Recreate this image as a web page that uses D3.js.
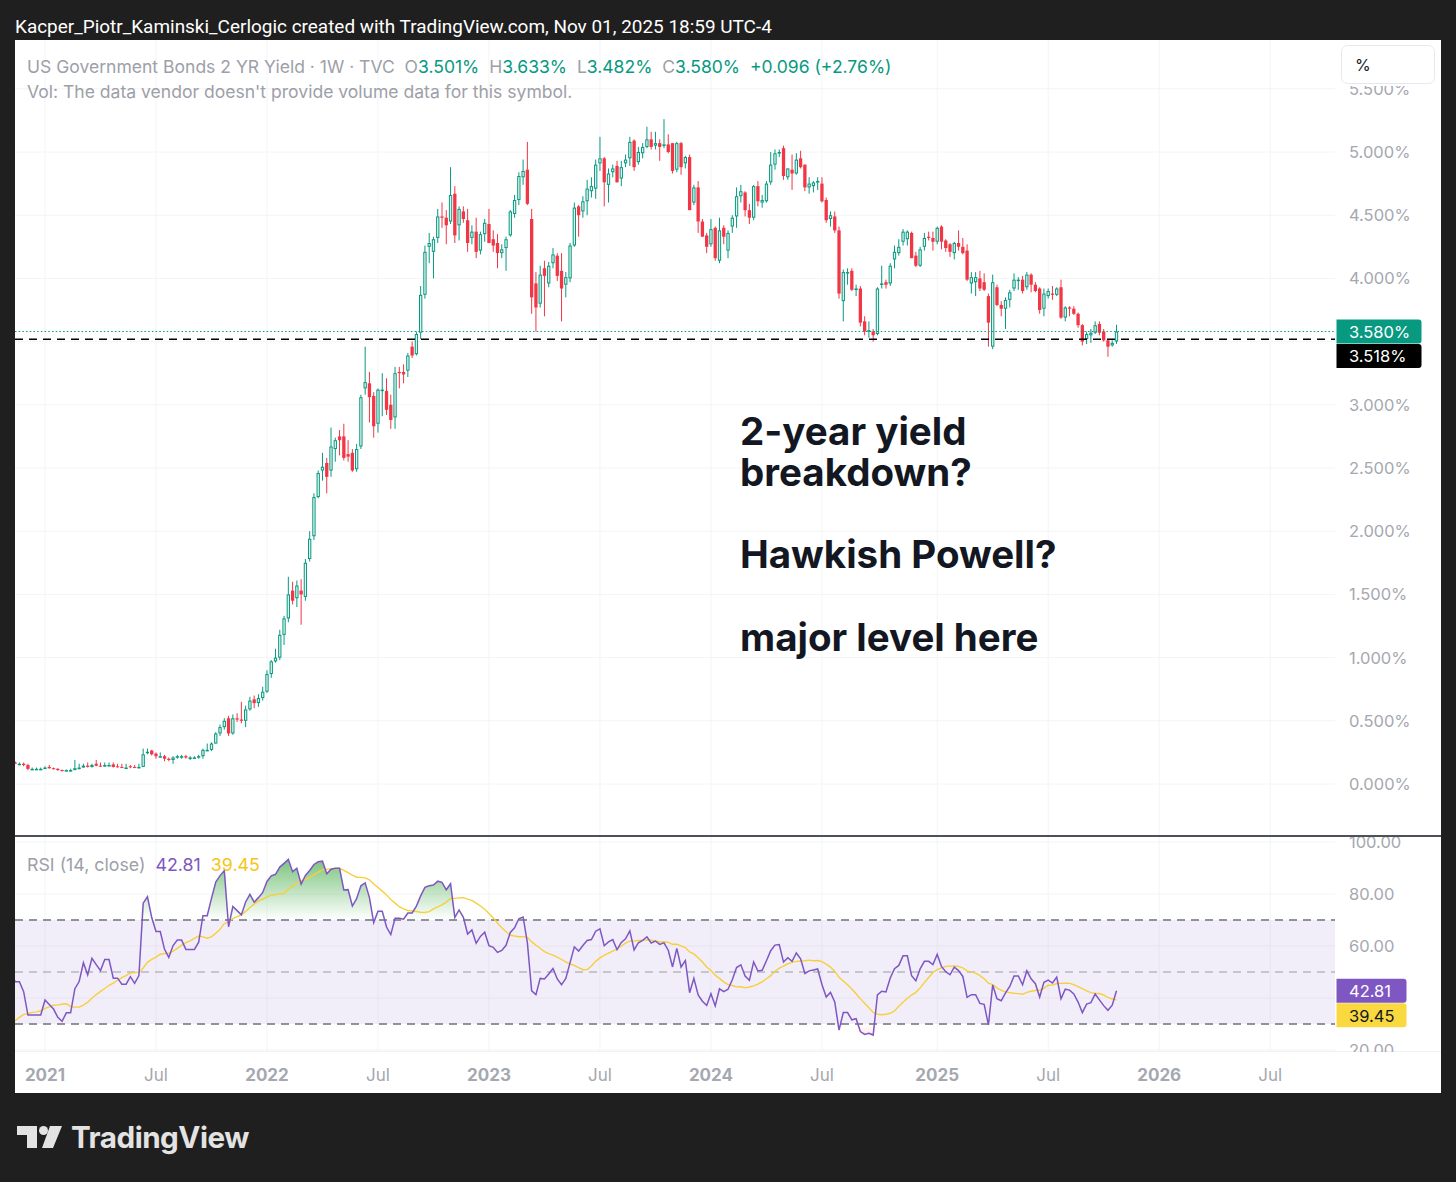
<!DOCTYPE html>
<html><head><meta charset="utf-8">
<script src="https://cdn.jsdelivr.net/npm/d3@7"></script>
<style>
html,body{margin:0;padding:0;background:#1f1f1f;}
svg{display:block;}
text{white-space:pre;}
</style></head><body>
<svg id="chart" width="1456" height="1182"></svg>
<script>
// ---------------- DATA (weekly, TVC:US02Y, % yield) ----------------
const firstWeek = "2020-04-13"; // Monday of first bar (bars before mid-Nov 2020 are off-screen warm-up for the RSI)
const opens = [
 .225,.220,.210, .215,.205,.200,.205, .195,.200,.190,.185,.190, .180,.175,.180,.170, .165,.170,.160,.165,.155, .160,.150,.155,.145, .140,.145,.135,.140, .130,.135,
 .17,.16,.16,.15,.12,.12,.12,
 .12,.135,.125,.12, .11,.105,.11,.11, .12,.13,.145,.135,.16, .145,.14,.15,.155, .14,.135,.13,.14,.135, .13,.135,.25,.265, .24,.22,.22,.20, .19,.21,.22,.22,.21, .21,.21,.22,.27, .27,.32,.40,.45, .52,.40,.52,.51,.50, .59,.67,.64,.68,
 .73,.87,.97,1.00,1.18, 1.31,1.53,1.47,1.53, 1.48,1.78,1.96,2.27, 2.48,2.54,2.48,2.65, 2.75,2.75,2.61,2.62,2.49, 2.67,3.13,3.17,3.07, 2.85,3.12,3.11,3.00, 2.90,3.26,3.26,3.27,3.46, 3.40,3.57,3.87,4.25, 4.21,4.32,4.49,4.48,4.45, 4.67,4.42,4.53,4.46, 4.32,4.37,4.22,4.35,
 4.43,4.31,4.28,4.20,4.24, 4.34,4.51,4.62,4.80, 4.86,4.47,3.96,3.80, 4.08,3.96,4.12,4.18, 4.06,3.95,4.00,4.26,4.57, 4.53,4.61,4.69,4.71, 4.91,4.95,4.74,4.84,4.89, 4.79,4.91,4.95,5.09, 4.92,4.99,5.04,5.10, 5.05,5.07,5.05,5.06,5.07, 4.86,5.07,4.91,4.96, 4.60,4.72,4.45,4.34,
 4.27,4.40,4.14,4.40,4.22, 4.41,4.49,4.65,4.68, 4.54,4.48,4.73,4.60, 4.61,4.76,4.90,5.00,5.03, 4.80,4.86,4.83,4.95, 4.90,4.72,4.73,4.76, 4.75,4.62,4.47,4.49,4.38, 3.82,4.05,4.06,3.91, 3.92,3.66,3.58,3.58,3.56, 3.95,3.97,3.96,4.15, 4.20,4.29,4.31,4.36, 4.18,4.10,4.25,4.33,4.32,
 4.29,4.41,4.30,4.27, 4.20,4.28,4.25,4.22, 3.96,3.97,4.00,3.97,3.86, 3.46,3.93,3.79,3.76, 3.83,3.92,3.98,3.99, 3.93,4.03,3.95,3.92,3.76, 3.86,3.88,3.87,3.93, 3.69,3.77,3.76,3.72, 3.63,3.52,3.55,3.57,3.64, 3.58,3.51,3.47,3.501
];
const highs = [
 .23,.23,.22, .22,.21,.21,.21, .21,.21,.20,.20,.20, .19,.19,.19,.18, .18,.18,.17,.17,.17, .17,.16,.16,.15, .15,.15,.15,.15, .14,.18,
 .18,.17,.17,.16,.13,.13,.13,
 .14,.15,.13,.125, .115,.115,.12,.19, .16,.16,.17,.16,.19, .17,.17,.17,.17, .16,.16,.16,.15,.15, .16,.28,.28,.27, .25,.25,.23,.21, .22,.23,.23,.23,.22, .22,.23,.28,.32, .33,.41,.47,.52, .54,.55,.56,.65,.62, .69,.70,.71,.77,
 .90,.98,1.07,1.22,1.33, 1.64,1.60,1.61,1.62, 1.78,2.00,2.30,2.48, 2.62,2.58,2.82,2.74, 2.80,2.85,2.72,2.65,2.69, 3.08,3.46,3.26,3.10, 3.13,3.25,3.21,3.08, 3.30,3.30,3.32,3.41,3.50, 3.58,3.94,4.26,4.36, 4.33,4.55,4.60,4.54,4.88, 4.73,4.57,4.57,4.55, 4.42,4.48,4.37,4.47,
 4.55,4.38,4.35,4.27,4.33, 4.54,4.66,4.84,4.94, 5.08,4.55,4.05,4.10, 4.14,4.13,4.24,4.20, 4.20,4.05,4.28,4.60,4.58, 4.65,4.78,4.80,4.94, 5.12,4.96,4.87,4.90,4.93, 4.93,4.98,5.12,5.10, 5.04,5.07,5.20,5.16, 5.16,5.10,5.26,5.14,5.07, 5.08,5.08,4.97,4.98, 4.74,4.77,4.47,4.36,
 4.47,4.41,4.48,4.42,4.38, 4.50,4.72,4.74,4.69, 4.59,4.74,4.77,4.66, 4.77,5.00,5.02,5.02,5.05, 4.87,4.98,4.99,5.01, 4.90,4.80,4.77,4.80, 4.80,4.64,4.53,4.53,4.41, 4.07,4.08,4.08,3.95, 3.94,3.70,3.66,3.60,3.93, 4.10,3.99,4.12,4.26, 4.31,4.39,4.38,4.37, 4.21,4.25,4.36,4.37,4.37,
 4.41,4.42,4.31,4.28, 4.29,4.38,4.32,4.27, 4.05,4.05,4.06,4.04,3.88, 4.03,3.95,3.82,3.85, 3.91,4.04,4.01,4.02, 4.05,4.04,3.97,3.93,3.92, 3.92,3.94,3.93,3.99, 3.78,3.78,3.78,3.73, 3.64,3.58,3.60,3.66,3.66, 3.60,3.52,3.51,3.633
];
const lows = [
 .21,.20,.20, .20,.19,.19,.19, .19,.18,.18,.18,.17, .17,.17,.16,.16, .16,.15,.15,.15,.15, .14,.14,.14,.13, .13,.13,.13,.12, .12,.13,
 .16,.15,.14,.11,.11,.11,.11,
 .12,.12,.115,.105, .10,.10,.10,.11, .115,.13,.13,.13,.14, .135,.135,.14,.13, .13,.125,.125,.125,.125, .125,.135,.235,.225, .20,.21,.18,.18, .16,.20,.20,.20,.19, .20,.20,.20,.26, .26,.32,.38,.43, .38,.39,.49,.48,.45, .58,.60,.61,.66,
 .72,.84,.96,.98,1.10, 1.28,1.42,1.40,1.26, 1.45,1.76,1.93,2.26, 2.40,2.30,2.43,2.55, 2.60,2.56,2.55,2.47,2.47, 2.65,3.08,2.86,2.74, 2.78,2.91,2.92,2.81, 2.81,3.13,3.17,3.22,3.37, 3.39,3.52,3.84,4.12, 4.00,4.28,4.40,4.27,4.43, 4.28,4.30,4.44,4.21, 4.27,4.16,4.19,4.29,
 4.28,4.21,4.08,4.16,4.06, 4.33,4.48,4.58,4.74, 4.58,3.72,3.58,3.77, 3.70,3.93,4.08,3.98, 3.66,3.85,3.97,4.25,4.33, 4.48,4.50,4.64,4.63, 4.85,4.57,4.60,4.80,4.76, 4.73,4.88,4.89,4.85, 4.90,4.95,5.03,5.02, 5.02,4.93,5.03,4.99,4.83, 4.84,4.82,4.87,4.54, 4.58,4.36,4.33,4.20,
 4.25,4.14,4.12,4.27,4.16, 4.36,4.40,4.60,4.49, 4.43,4.46,4.57,4.56, 4.60,4.74,4.86,4.96,4.78, 4.78,4.70,4.82,4.87, 4.69,4.67,4.68,4.70, 4.60,4.44,4.41,4.36,3.84, 3.66,3.95,3.90,3.86, 3.62,3.55,3.53,3.50,3.55, 3.92,3.92,3.94,4.08, 4.18,4.26,4.26,4.16, 4.09,4.09,4.22,4.30,4.22,
 4.27,4.23,4.21,4.17, 4.15,4.22,4.19,3.98, 3.88,3.86,3.90,3.90,3.46, 3.44,3.78,3.70,3.60, 3.77,3.90,3.91,3.88, 3.91,3.89,3.89,3.72,3.70, 3.84,3.83,3.86,3.68, 3.66,3.70,3.71,3.61, 3.47,3.48,3.49,3.56,3.55, 3.50,3.38,3.46,3.482
];
const closes = [
 .220,.210,.215, .205,.200,.205,.195, .200,.190,.185,.190,.180, .175,.180,.170,.165, .170,.160,.165,.155,.160, .150,.155,.145,.140, .145,.135,.140,.130, .135,.170,
 .16,.16,.15,.12,.12,.12,.12,
 .13,.125,.12,.11, .105,.11,.11,.125, .13,.145,.135,.15,.145, .14,.15,.15,.135, .135,.13,.13,.135,.13, .135,.235,.255,.235, .22,.22,.20,.19, .21,.22,.22,.21,.21, .21,.22,.27,.27, .32,.40,.45,.50, .40,.52,.51,.50,.59, .66,.64,.68,.73,
 .87,.97,1.00,1.18,1.31, 1.50,1.45,1.57,1.50, 1.75,1.94,2.27,2.46, 2.51,2.43,2.67,2.72, 2.72,2.58,2.59,2.48,2.65, 3.06,3.18,3.06,2.83, 3.12,3.12,2.96,2.88, 3.25,3.25,3.24,3.39,3.39, 3.56,3.87,4.21,4.28, 4.31,4.49,4.48,4.42,4.66, 4.34,4.55,4.47,4.28, 4.37,4.21,4.35,4.44,
 4.28,4.26,4.20,4.23,4.31, 4.53,4.62,4.81,4.85, 4.59,3.85,3.77,4.03, 4.02,4.10,4.19,4.02, 3.92,4.01,4.26,4.56,4.50, 4.61,4.71,4.73,4.90, 4.95,4.76,4.83,4.87,4.76, 4.88,4.94,5.08,4.88, 5.00,5.04,5.10,5.04, 5.07,5.04,5.06,5.00,4.85, 5.07,4.88,4.96,4.54, 4.72,4.45,4.33,4.25,
 4.39,4.16,4.38,4.33,4.36, 4.48,4.65,4.69,4.54, 4.48,4.73,4.61,4.62, 4.75,4.90,4.99,5.00,4.81, 4.87,4.83,4.94,4.88, 4.72,4.75,4.76,4.77, 4.61,4.46,4.50,4.38,3.88, 4.05,4.05,3.91,3.92, 3.65,3.58,3.59,3.55,3.92, 3.96,3.95,4.10,4.21, 4.25,4.37,4.37,4.16, 4.10,4.23,4.32,4.32,4.29,
 4.40,4.29,4.24,4.21, 4.28,4.25,4.20,3.99, 4.01,4.01,3.92,3.91,3.65, 3.97,3.79,3.76,3.83, 3.89,3.99,3.99,3.90, 4.03,3.95,3.90,3.75,3.88, 3.90,3.87,3.92,3.69, 3.77,3.76,3.72,3.63, 3.50,3.56,3.57,3.63,3.57, 3.51,3.46,3.49,3.580
];
const levelLine = 3.518;           // user drawn horizontal level
const legendChange = "+0.096 (+2.76%)";
const rsiLegend = ["42.81", "39.45"]; // RSI, RSI-based MA (last values shown)
const priceTicks = [0,0.5,1,1.5,2,2.5,3,3.5,4,4.5,5,5.5];
const rsiTicks = [20,40,60,80,100];
const rsiLevels = [70,50,30];
const timeTickLabels = ["2021","Jul","2022","Jul","2023","Jul","2024","Jul","2025","Jul","2026","Jul"];
const timeTickMonths = ["2021-01","2021-07","2022-01","2022-07","2023-01","2023-07","2024-01","2024-07","2025-01","2025-07","2026-01","2026-07"];
const noteLines = [["2-year yield","breakdown?"],["Hawkish Powell?"],["major level here"]];
const headerText = "Kacper_Piotr_Kaminski_Cerlogic created with TradingView.com, Nov 01, 2025 18:59 UTC-4";

// ---------------- SETUP ----------------
const n = closes.length;
if (![opens,highs,lows].every(a => a.length === n)) console.error("length mismatch", opens.length, highs.length, lows.length, n);
const start = new Date(firstWeek + "T00:00:00Z");
const dates = closes.map((_, i) => d3.utcMonday.offset(start, i));

const C = {green:"#089981", red:"#f23645", upFill:"#e4f4ef", gray:"#9da0a9", text:"#131722",
           purple:"#7e57c2", yellow:"#f7cf3b", bg:"#1f1f1f"};
const FONT = "Inter, 'Noto Sans', sans-serif";
const L = {left:15, plotR:1335, right:1441, top:40, mainB:836, rsiT:837, rsiB:1051, bottom:1093};

const svg = d3.select("#chart");
svg.append("rect").attr("width",1456).attr("height",1182).attr("fill",C.bg);
svg.append("rect").attr("x",L.left).attr("y",L.top).attr("width",L.right-L.left).attr("height",L.bottom-L.top).attr("fill","#fff");

const x = d3.scaleUtc().domain([new Date("2021-01-04T00:00:00Z"), new Date("2025-10-27T00:00:00Z")]).range([45, 1116.5]);
const yP = d3.scaleLinear().domain([0,5]).range([784,152]);
const yR = d3.scaleLinear().domain([20,100]).range([1050,842]);

const defs = svg.append("defs");
defs.append("clipPath").attr("id","cMain").append("rect").attr("x",L.left).attr("y",L.top).attr("width",L.plotR-L.left).attr("height",L.mainB-L.top);
defs.append("clipPath").attr("id","cRsi").append("rect").attr("x",L.left).attr("y",L.rsiT).attr("width",L.plotR-L.left).attr("height",L.rsiB-L.rsiT);
defs.append("clipPath").attr("id","cPAx").append("rect").attr("x",L.plotR).attr("y",86).attr("width",L.right-L.plotR).attr("height",L.mainB-86);
defs.append("clipPath").attr("id","cRAx").append("rect").attr("x",L.plotR).attr("y",L.rsiT).attr("width",L.right-L.plotR).attr("height",L.rsiB-L.rsiT+1);
const gOB = defs.append("linearGradient").attr("id","gOB").attr("gradientUnits","userSpaceOnUse").attr("x1",0).attr("x2",0).attr("y1",yR(100)).attr("y2",yR(70));
gOB.append("stop").attr("offset",0).attr("stop-color","#4caf50").attr("stop-opacity",0.95);
gOB.append("stop").attr("offset",1).attr("stop-color","#4caf50").attr("stop-opacity",0.0);
const gOS = defs.append("linearGradient").attr("id","gOS").attr("gradientUnits","userSpaceOnUse").attr("x1",0).attr("x2",0).attr("y1",yR(30)).attr("y2",yR(0));
gOS.append("stop").attr("offset",0).attr("stop-color","#f23645").attr("stop-opacity",0);
gOS.append("stop").attr("offset",1).attr("stop-color","#f23645").attr("stop-opacity",0.9);

// ---------------- GRID ----------------
const tickDates = timeTickMonths.map(m => d3.utcMonday.ceil(new Date(m + "-01T00:00:00Z")));
const grid = svg.append("g");
grid.selectAll("line.v").data(tickDates).join("line")
  .attr("x1",d=>x(d)).attr("x2",d=>x(d)).attr("y1",L.top).attr("y2",L.rsiB)
  .attr("stroke","#f3f4f6").attr("stroke-width",1);
grid.selectAll("line.h").data(priceTicks).join("line")
  .attr("x1",L.left).attr("x2",L.plotR).attr("y1",d=>yP(d)).attr("y2",d=>yP(d))
  .attr("stroke","#f3f4f6").attr("stroke-width",1).attr("clip-path","url(#cMain)");
grid.selectAll("line.r").data(rsiTicks).join("line")
  .attr("x1",L.left).attr("x2",L.plotR).attr("y1",d=>yR(d)).attr("y2",d=>yR(d))
  .attr("stroke","#f3f4f6").attr("stroke-width",1).attr("clip-path","url(#cRsi)");

// ---------------- CANDLES ----------------
const gC = svg.append("g").attr("clip-path","url(#cMain)");
const idx = d3.range(n);
const bw = 3.3;
gC.selectAll("line.w").data(idx).join("line")
  .attr("x1",i=>x(dates[i])).attr("x2",i=>x(dates[i]))
  .attr("y1",i=>yP(highs[i])).attr("y2",i=>yP(lows[i]))
  .attr("stroke",i=>closes[i]>=opens[i]?C.green:C.red).attr("stroke-width",1);
gC.selectAll("rect.b").data(idx).join("rect")
  .each(function(i){
    const up = closes[i] >= opens[i];
    const top = yP(Math.max(opens[i],closes[i])), bot = yP(Math.min(opens[i],closes[i]));
    const r = d3.select(this);
    if (up) {
      r.attr("x", x(dates[i]) - bw/2 + 0.5).attr("width", bw-1)
       .attr("y", top + 0.5).attr("height", Math.max(bot-top-1, 0.5))
       .attr("fill", C.upFill).attr("stroke", C.green).attr("stroke-width",1);
    } else {
      r.attr("x", x(dates[i]) - bw/2).attr("width", bw)
       .attr("y", top).attr("height", Math.max(bot-top, 1)).attr("fill", C.red);
    }
  });

// price lines
const lastC = closes[n-1];
svg.append("line").attr("x1",L.left).attr("x2",L.plotR).attr("y1",yP(lastC)).attr("y2",yP(lastC))
  .attr("stroke",C.green).attr("stroke-width",1.2).attr("stroke-dasharray","1.5,2.2");
svg.append("line").attr("x1",L.left).attr("x2",L.plotR).attr("y1",yP(levelLine)).attr("y2",yP(levelLine))
  .attr("stroke","#000").attr("stroke-width",1.6).attr("stroke-dasharray","8,6");

// ---------------- RSI ----------------
function rsiCalc(src, len){
  const out = new Array(src.length).fill(null);
  let up=0, dn=0;
  for (let i=1;i<src.length;i++){
    const ch = src[i]-src[i-1], u = Math.max(ch,0), d = Math.max(-ch,0);
    if (i <= len){ up += u; dn += d; if (i === len){ up/=len; dn/=len; out[i] = dn===0?100:100-100/(1+up/dn);} }
    else { up = (up*(len-1)+u)/len; dn = (dn*(len-1)+d)/len; out[i] = dn===0?100:100-100/(1+up/dn); }
  }
  return out;
}
const rsi = rsiCalc(closes, 14);
const rsiMA = rsi.map((v,i) => (i < 27) ? null : d3.mean(rsi.slice(i-13, i+1)));
const gR = svg.append("g").attr("clip-path","url(#cRsi)");
gR.append("rect").attr("x",L.left).attr("width",L.plotR-L.left).attr("y",yR(70)).attr("height",yR(30)-yR(70))
  .attr("fill","#7e57c2").attr("fill-opacity",0.1);
const rIdx = idx.filter(i => rsi[i] !== null);
gR.append("path").datum(rIdx).attr("fill","url(#gOB)")
  .attr("d", d3.area().x(i=>x(dates[i])).y0(yR(70)).y1(i=>yR(Math.max(rsi[i],70))));
gR.append("path").datum(rIdx).attr("fill","url(#gOS)")
  .attr("d", d3.area().x(i=>x(dates[i])).y0(yR(30)).y1(i=>yR(Math.min(rsi[i],30))));
rsiLevels.forEach(v => {
  gR.append("line").attr("x1",L.left).attr("x2",L.plotR).attr("y1",yR(v)).attr("y2",yR(v))
    .attr("stroke", v===50 ? "#9a9ca4" : "#6f727c").attr("stroke-width", v===50?1.1:1.5)
    .attr("stroke-dasharray","8,6");
});
gR.append("path").datum(idx.filter(i=>rsiMA[i]!==null)).attr("fill","none").attr("stroke",C.yellow).attr("stroke-width",1.4)
  .attr("d", d3.line().x(i=>x(dates[i])).y(i=>yR(rsiMA[i])));
gR.append("path").datum(rIdx).attr("fill","none").attr("stroke",C.purple).attr("stroke-width",1.5)
  .attr("d", d3.line().x(i=>x(dates[i])).y(i=>yR(rsi[i])));

// separators
svg.append("line").attr("x1",L.left).attr("x2",L.right).attr("y1",836).attr("y2",836).attr("stroke","#131722").attr("stroke-width",1.6);
svg.append("line").attr("x1",L.left).attr("x2",L.right).attr("y1",L.rsiB+0.5).attr("y2",L.rsiB+0.5).attr("stroke","#f0f1f3").attr("stroke-width",1);

// ---------------- TAG POSITIONS ----------------
const gy = yP(lastC);              // green last-price tag, black level tag stacked under it
const ry = yR(+rsiLegend[0]);      // purple RSI tag, yellow MA tag stacked under it
const priceTagSpan = [gy-12, gy+12+24.5];
const rsiTagSpan = [ry-12, ry+12+24.5];
const free = (v, span) => v < span[0]-8 || v > span[1]+8;

// ---------------- AXES ----------------
const axTxt = (g) => g.attr("font-family",FONT).attr("font-size",16.5).attr("fill","#a5a8b0");
const pAx = svg.append("g").attr("clip-path","url(#cPAx)");
pAx.selectAll("text").data(priceTicks.filter(t => free(yP(t), priceTagSpan))).join("text").call(axTxt)
  .attr("x",1349).attr("y",d=>yP(d)).attr("dominant-baseline","central").text(d=>d3.format(".3f")(d)+"%");
const rAx = svg.append("g").attr("clip-path","url(#cRAx)");
rAx.selectAll("text").data(rsiTicks.filter(t => free(yR(t), rsiTagSpan))).join("text").call(axTxt)
  .attr("x",1349).attr("y",d=>yR(d)).attr("dominant-baseline","central").text(d=>d3.format(".2f")(d));
svg.append("g").selectAll("text").data(timeTickLabels).join("text").call(axTxt)
  .attr("x",(d,i)=>x(tickDates[i])).attr("y",1075).attr("text-anchor","middle").attr("dominant-baseline","central")
  .attr("font-weight",(d,i)=>i%2===0?650:400).attr("font-size",17).text(d=>d);

// "%" box
svg.append("rect").attr("x",1341.5).attr("y",45.5).attr("width",93).attr("height",38).attr("rx",6)
  .attr("fill","#fff").attr("stroke","#e6e8ee");
svg.append("text").attr("x",1355).attr("y",65).attr("dominant-baseline","central").attr("font-family",FONT)
  .attr("font-size",16).attr("fill",C.text).text("%");

// value tags
function tag(yc, w, bg, fg, label){
  const g = svg.append("g");
  g.append("path").attr("d", `M${1336.5},${yc-12}h${w-3}a3,3 0 0 1 3,3v18a3,3 0 0 1 -3,3h${-(w-3)}z`).attr("fill",bg);
  g.append("text").attr("x",1349).attr("y",yc+0.5).attr("dominant-baseline","central").attr("font-family",FONT)
    .attr("font-size",16.5).attr("fill",fg).text(label);
}
tag(gy, 85, C.green, "#fff", d3.format(".3f")(lastC)+"%");
tag(gy+24.5, 85, "#000", "#fff", d3.format(".3f")(levelLine)+"%");
tag(ry, 70, C.purple, "#fff", rsiLegend[0]);
tag(ry+24.5, 70, "#f9d93f", C.text, rsiLegend[1]);

// ---------------- LEGENDS ----------------
function fit(sel, w){
  const bw0 = sel.node().getBBox().width;
  const fs = parseFloat(sel.attr("font-size"));
  sel.attr("font-size", fs * w / bw0);
}
const f3 = v => d3.format(".3f")(v) + "%";
const lg = svg.append("text").attr("x",27).attr("y",66).attr("dominant-baseline","central")
  .attr("font-family",FONT).attr("font-size",17).attr("fill",C.gray);
lg.append("tspan").text("US Government Bonds 2 YR Yield · 1W · TVC");
[["O",opens[n-1]],["H",highs[n-1]],["L",lows[n-1]],["C",closes[n-1]]].forEach(([k,v]) => {
  lg.append("tspan").text("  " + k);
  lg.append("tspan").attr("fill",C.green).text(f3(v));
});
lg.append("tspan").attr("fill",C.green).text("  " + legendChange);
fit(lg, 865);
const vol = svg.append("text").attr("x",27).attr("y",91).attr("dominant-baseline","central")
  .attr("font-family",FONT).attr("font-size",17).attr("fill",C.gray)
  .text("Vol: The data vendor doesn't provide volume data for this symbol.");
fit(vol, 546);
const rl = svg.append("text").attr("x",27).attr("y",864).attr("dominant-baseline","central")
  .attr("font-family",FONT).attr("font-size",17).attr("fill",C.gray);
rl.append("tspan").text("RSI (14, close)");
rl.append("tspan").attr("fill",C.purple).text("  " + rsiLegend[0]);
rl.append("tspan").attr("fill","#f5c518").text("  " + rsiLegend[1]);
fit(rl, 233);

// annotation (each block is one text element; lines are tspans)
const noteBase = [445, 568, 651];
const noteFs = 38.5, lineGap = 41;
noteLines.forEach((blk,bi) => {
  const tx = svg.append("text").attr("x",740).attr("y",noteBase[bi]).attr("font-family",FONT)
    .attr("font-weight",700).attr("font-size",noteFs).attr("fill",C.text);
  blk.forEach((t,li) => tx.append("tspan").attr("x",740).attr("dy", li===0?0:lineGap).text(t));
});

// header
const hd = svg.append("text").attr("x",15).attr("y",26).attr("dominant-baseline","central")
  .attr("font-family","Roboto, 'Noto Sans', sans-serif").attr("font-size",17).attr("fill","#ffffff").text(headerText);
fit(hd, 758);

// logo
const lgo = svg.append("g").attr("fill","#e3e3e3");
lgo.append("path").attr("d","M17,1126h20v22h-10v-13h-10z");
lgo.append("circle").attr("cx",43.5).attr("cy",1130.5).attr("r",4.5);
lgo.append("path").attr("d","M50,1126h12l-9,22h-11z");
const tv = lgo.append("text").attr("x",71).attr("y",1148).attr("font-family",FONT).attr("font-weight",700)
  .attr("font-size",30).attr("letter-spacing",-0.5).text("TradingView");
fit(tv, 179);
</script>
</body></html>
